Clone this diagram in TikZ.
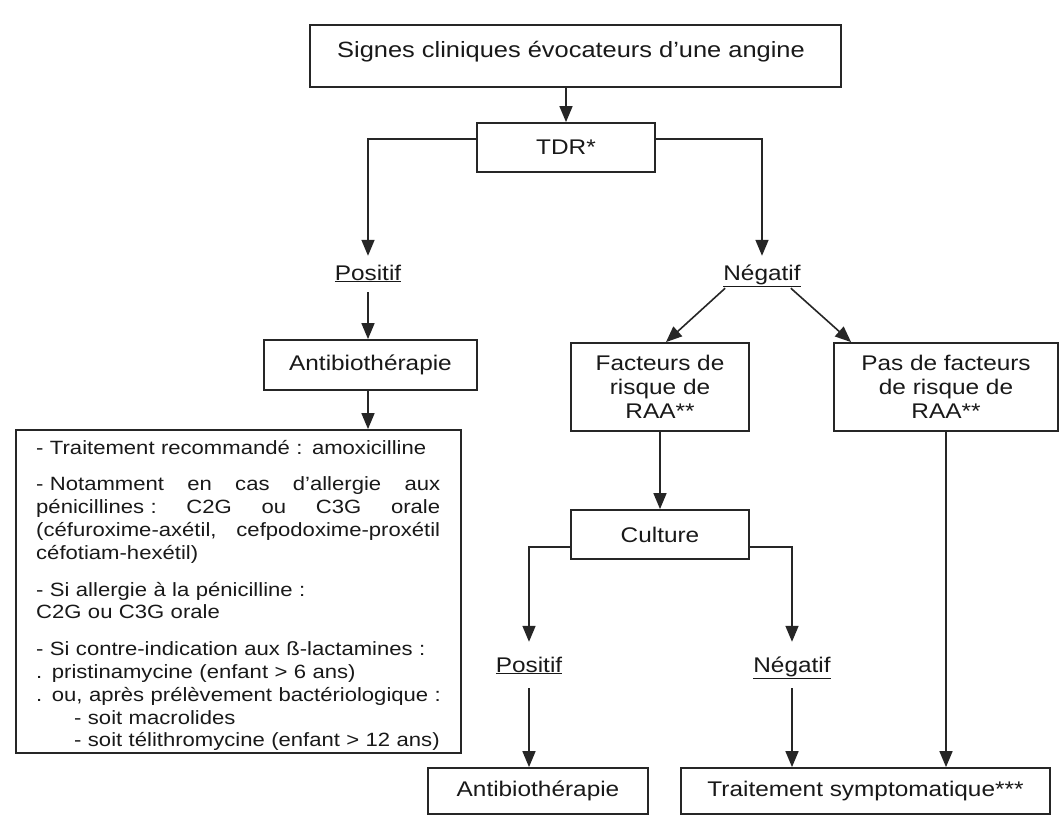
\documentclass[tikz,border=0pt]{standalone}
\usepackage{fontspec}
\setmainfont[FakeStretch=1.15]{Liberation Sans}
\usetikzlibrary{arrows.meta}
\definecolor{ink}{gray}{0.1}
\definecolor{edge}{gray}{0.15}
\newcommand\lgfont{\fontsize{21.2}{24}\selectfont}
\newcommand\hdfont{\fontsize{22.1}{26}\selectfont}
\newcommand\smfont{\fontsize{19.2}{22.8}\selectfont}
\newcommand\jline[1]{\leavevmode\hbox to 404pt{#1}}
\tikzset{
  box/.style={draw=edge, line width=1.8pt, inner sep=0pt, text=ink, font=\lgfont, align=center},
  lab/.style={inner sep=0pt, text=ink, font=\lgfont, anchor=base},
  arr/.style={draw=edge, line width=1.6pt, -{Triangle[length=16pt,width=13pt]}}
}
\begin{document}
\begin{tikzpicture}[x=1pt,y=-1pt]
\fill[white] (0,0) rectangle (1064,816);
\useasboundingbox (0,0) rectangle (1064,816);

% boxes
\node[box, minimum width=531pt, minimum height=62pt] (top) at (575.5,56) {};
\node[lab, font=\hdfont] (toptxt) at (571,58) {Signes cliniques évocateurs d’une angine};
\node[box, minimum width=178pt, minimum height=49pt] (tdr) at (566,147.5) {TDR*};
\node[lab, text height=24pt, text depth=12pt] (pos1) at (368,280) {\underline{Positif}};
\node[lab, text height=24pt, text depth=8pt] (neg1) at (762,280) {\underline{Négatif}};
\node[box, minimum width=213pt, minimum height=50pt] (ab1) at (370.5,365) {Antibiothérapie};
\node[box, minimum width=445pt, minimum height=323pt] (big) at (238.25,591.5) {};
\node[inner sep=0pt, text=ink, font=\smfont, anchor=base west, text width=430pt, align=left] (bigtxt) at (36,454) {%
- Traitement recommandé : amoxicilline\\[14pt]
\jline{- Notamment\hfill en\hfill cas\hfill d'allergie\hfill aux}\\
\jline{pénicillines :\hfill C2G\hfill ou\hfill C3G\hfill orale}\\
\jline{(céfuroxime-axétil,\hfill cefpodoxime-proxétil}\\
céfotiam-hexétil)\\[14pt]
- Si allergie à la pénicilline :\\
C2G ou C3G orale\\[14pt]
- Si contre-indication aux ß-lactamines :\\
. pristinamycine (enfant > 6 ans)\\
. ou, après prélèvement bactériologique :\\
\hspace*{38pt}- soit macrolides\\
\hspace*{38pt}- soit télithromycine (enfant > 12 ans)};
\node[box, minimum width=178pt, minimum height=88pt] (fact) at (660,387) {Facteurs de\\risque de\\RAA**};
\node[box, minimum width=224pt, minimum height=88pt] (pasf) at (946,387) {Pas de facteurs\\de risque de\\RAA**};
\node[box, minimum width=178pt, minimum height=49pt] (cult) at (660,534.5) {Culture};
\node[lab, text height=30pt, text depth=16pt] (pos2) at (529,672) {\underline{Positif}};
\node[lab, text height=30pt, text depth=16pt] (neg2) at (792,672) {\underline{Négatif}};
\node[box, minimum width=220pt, minimum height=46pt] (ab2) at (538,791) {Antibiothérapie};
\node[box, minimum width=369pt, minimum height=46pt] (trait) at (865.5,791) {Traitement symptomatique***};

% connectors
\draw[arr] (tdr.north |- top.south) -- (tdr.north);
\draw[arr] ([yshift=8.5pt]tdr.west) -| (pos1.north);
\draw[arr] ([yshift=8.5pt]tdr.east) -| (neg1.north);
\draw[arr] (pos1.south) -- (pos1.south |- ab1.north);
\draw[arr] (pos1.south |- ab1.south) -- (pos1.south |- big.north);
\draw[arr] ([xshift=2pt]neg1.south west) -- ([xshift=6pt]fact.north);
\draw[arr] ([xshift=-10pt]neg1.south east) -- ([xshift=18pt]pasf.north west);
\draw[arr] (fact) -- (cult);
\draw[arr] ([yshift=-12.5pt]cult.west) -| (pos2.north);
\draw[arr] ([yshift=-12.5pt]cult.east) -| (neg2.north);
\draw[arr] (pos2.south) -- (pos2.south |- ab2.north);
\draw[arr] (neg2.south) -- (neg2.south |- trait.north);
\draw[arr] (pasf.south) -- (pasf.south |- trait.north);
\end{tikzpicture}
\end{document}
